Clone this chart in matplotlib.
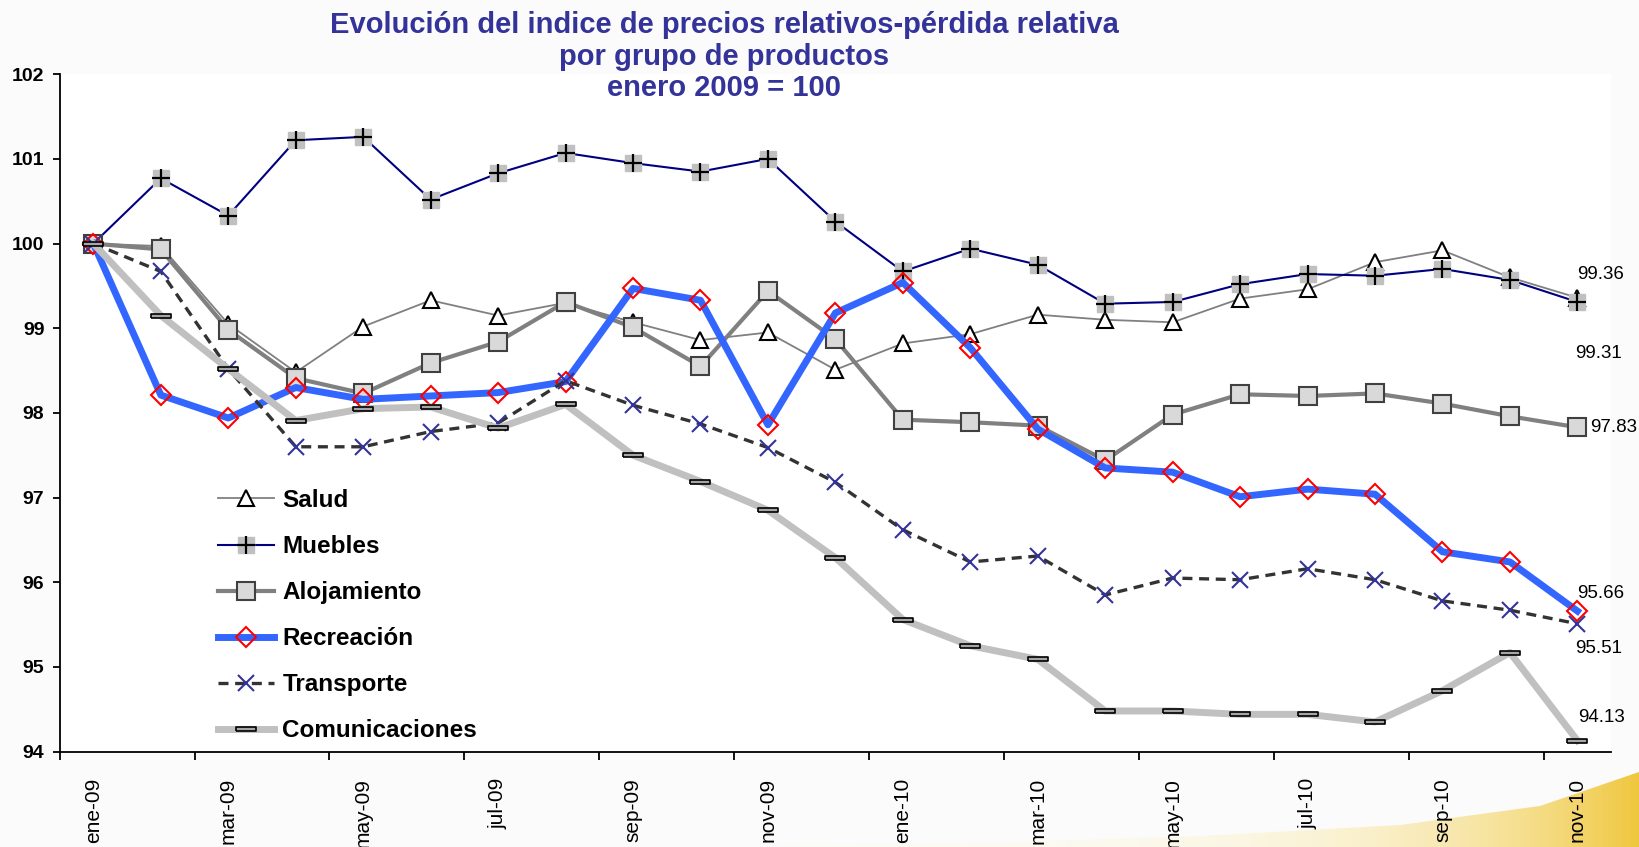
import numpy as np
import matplotlib
matplotlib.use("Agg")
import matplotlib.pyplot as plt
from matplotlib.patches import Polygon

plt.rcParams['font.family'] = ['Liberation Sans', 'DejaVu Sans']

# data (enero 2009 = 100)
meses = ['ene-09', 'feb-09', 'mar-09', 'abr-09', 'may-09', 'jun-09', 'jul-09', 'ago-09',
         'sep-09', 'oct-09', 'nov-09', 'dic-09', 'ene-10', 'feb-10', 'mar-10', 'abr-10',
         'may-10', 'jun-10', 'jul-10', 'ago-10', 'sep-10', 'oct-10', 'nov-10']
salud = [100, 99.97, 99.05, 98.48, 99.02, 99.33, 99.15, 99.30, 99.07, 98.86, 98.95, 98.51,
         98.82, 98.93, 99.16, 99.10, 99.07, 99.35, 99.46, 99.78, 99.92, 99.60, 99.36]
muebles = [100, 100.77, 100.33, 101.22, 101.26, 100.52, 100.83, 101.07, 100.95, 100.85, 101.00,
           100.26, 99.67, 99.94, 99.75, 99.29, 99.31, 99.52, 99.64, 99.62, 99.70, 99.57, 99.31]
alojamiento = [100, 99.93, 98.98, 98.41, 98.23, 98.59, 98.84, 99.31, 99.01, 98.55, 99.44, 98.87,
               97.92, 97.89, 97.85, 97.44, 97.98, 98.22, 98.20, 98.23, 98.11, 97.96, 97.83]
recreacion = [100, 98.21, 97.94, 98.30, 98.16, 98.20, 98.24, 98.37, 99.47, 99.33, 97.86, 99.18,
              99.54, 98.77, 97.81, 97.35, 97.30, 97.01, 97.10, 97.04, 96.36, 96.24, 95.66]
transporte = [100, 99.67, 98.52, 97.60, 97.60, 97.78, 97.88, 98.38, 98.09, 97.87, 97.59, 97.18,
              96.62, 96.24, 96.31, 95.85, 96.05, 96.03, 96.16, 96.03, 95.78, 95.67, 95.51]
comunicaciones = [100, 99.15, 98.52, 97.91, 98.05, 98.07, 97.82, 98.10, 97.50, 97.19, 96.85, 96.29,
                  95.56, 95.25, 95.09, 94.48, 94.48, 94.44, 94.44, 94.35, 94.72, 95.17, 94.13]

fig = plt.figure(figsize=(16.39, 8.47), dpi=100, facecolor='#fbfbfb')

# yellow swoosh of the slide template, bottom right
bg = fig.add_axes([0, 0, 1, 1], zorder=-5)
bg.set_xlim(0, 1639)
bg.set_ylim(847, 0)
bg.axis('off')
grad = np.linspace(0, 1, 400) ** 2.5
img = np.ones((2, 400, 4))
img[..., 0] = 1.0 - 0.06 * grad
img[..., 1] = 0.98 - 0.20 * grad
img[..., 2] = 0.86 - 0.62 * grad
img[..., 3] = 0.2 + 0.8 * grad
im = bg.imshow(img, extent=[760, 1639, 847, 760], aspect='auto', zorder=0)
swoosh = Polygon([(760, 847), (1000, 842), (1200, 836), (1400, 825), (1540, 806),
                  (1639, 772), (1639, 847)], closed=True, transform=bg.transData)
im.set_clip_path(swoosh)

ax = fig.add_axes([0.0364, 0.1126, 0.9466, 0.7998])
ax.set_facecolor('white')
x = np.arange(len(meses))

ax.plot(x, salud, color='#808080', lw=1.3, marker='^', ms=11, mfc='white',
        mec='black', mew=1.5, zorder=3, label='Salud')
m1, = ax.plot(x, muebles, color='#000080', lw=1.5, marker='s', ms=11, mfc='#c0c0c0',
              mec='#c0c0c0', zorder=4)
m2, = ax.plot(x, muebles, ls='none', marker='+', ms=13, mec='black', mew=1.6, zorder=4.1)
ax.plot(x, alojamiento, color='#808080', lw=3, marker='s', ms=12.5, mfc='#d9d9d9',
        mec='#404040', mew=1.5, zorder=5, label='Alojamiento')
ax.plot(x, recreacion, color='#3366ff', lw=5, marker='D', ms=10, mfc='none',
        mec='#ff0000', mew=1.5, zorder=6, label='Recreación')
ax.plot(x, transporte, color='#333333', lw=2.4, dashes=(3, 2), marker='x', ms=12,
        mec='#333399', mew=1.5, zorder=7, label='Transporte')
dash = [(-1, -0.22), (1, -0.22), (1, 0.22), (-1, 0.22), (-1, -0.22)]
ax.plot(x, comunicaciones, color='#c0c0c0', lw=5, marker=dash, ms=15, mfc='#a6a6a6',
        mec='black', mew=1.2, zorder=8, label='Comunicaciones')

# end values
finales = [(salud[-1], 17, 17), (muebles[-1], 15.5, -37), (alojamiento[-1], 26, 0),
           (recreacion[-1], 17, 13), (transporte[-1], 15.5, -18), (comunicaciones[-1], 17, 16.5)]
for v, dx, dy in finales:
    ax.annotate(f"{v:.2f}", (x[-1], v), xytext=(dx, dy), textcoords='offset points',
                ha='center', va='center', fontsize=13.5, color='black', zorder=10)

ax.set_xlim(-0.5, len(meses) - 0.5)
ax.set_ylim(94, 102)
ax.set_yticks(np.arange(94, 103, 1))
ax.set_yticklabels([str(v) for v in range(94, 103)], fontweight='bold', fontsize=14)
ax.set_xticks(np.arange(-0.5, len(meses) - 1, 2))
ax.set_xticklabels([])
ax.set_xticks(x[::2], minor=True)
ax.set_xticklabels(meses[::2], minor=True, rotation=90, fontsize=15, va='top')
ax.tick_params(axis='x', which='major', direction='out', length=6, width=1.3)
ax.tick_params(axis='x', which='minor', length=0, pad=19)
ax.tick_params(axis='y', direction='out', length=5, width=1.3, pad=6)
for s in ['top', 'right']:
    ax.spines[s].set_visible(False)
for s in ['left', 'bottom']:
    ax.spines[s].set_linewidth(1.3)

handles, labels = ax.get_legend_handles_labels()
handles.insert(1, (m1, m2))
labels.insert(1, 'Muebles')
leg = ax.legend(handles, labels, loc='upper left', bbox_to_anchor=(0.088, 0.42),
                frameon=False, handlelength=2.3, handletextpad=0.35, labelspacing=0.95,
                numpoints=1, prop={'weight': 'bold', 'size': 17.5})

fig.text(0.442, 0.987, 'Evolución del indice de precios relativos-pérdida relativa\n'
         'por grupo de productos\nenero 2009 = 100', ha='center', va='top',
         fontsize=21, fontweight='bold', color='#333399', linespacing=1.16)

fig.savefig('out.png', dpi=100, facecolor=fig.get_facecolor())
